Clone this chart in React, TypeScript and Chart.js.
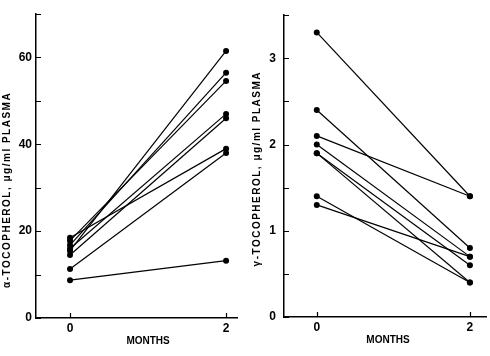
import { useEffect, useRef } from "react";
import { Chart, registerables } from "chart.js";
Chart.register(...registerables);

// ---- data ----
const months = [0, 2];
const alphaMonth0 = [18.5, 17.8, 16.8, 16.0, 15.5, 14.5, 11.3, 8.7];
const alphaMonth2 = [39.0, 54.6, 56.5, 47.0, 61.5, 46.0, 38.0, 13.2];
const gammaMonth0 = [3.3, 2.4, 2.1, 2.0, 1.9, 1.9, 1.4, 1.3];
const gammaMonth2 = [1.4, 0.8, 1.4, 0.7, 0.6, 0.4, 0.4, 0.7];
const alphaTickLabels = [0, 20, 40, 60];
const gammaTickLabels = [0, 1, 2, 3];
const monthTickLabels = ["0", "2"];

const FONT = '"Liberation Sans", Arial, sans-serif';

const decorPlugin = {
  id: "decor",
  afterDraw(chart: any, _args: any, opts: any) {
    const { ctx, chartArea, scales } = chart;
    const x = scales.x;
    const y = scales.y;
    ctx.save();
    ctx.strokeStyle = "#000";
    ctx.lineWidth = 1.2;
    ctx.beginPath();
    y.ticks.forEach((t: any) => {
      const py = Math.round(y.getPixelForValue(t.value)) + 0.5;
      ctx.moveTo(chartArea.left, py);
      ctx.lineTo(chartArea.left + opts.tickLen, py);
    });
    x.ticks.forEach((t: any) => {
      const px = Math.round(x.getPixelForValue(t.value)) + 0.5;
      ctx.moveTo(px, chartArea.bottom);
      ctx.lineTo(px, chartArea.bottom - opts.tickLen);
    });
    ctx.stroke();
    ctx.fillStyle = "#000";
    ctx.font = `bold 10px ${FONT}`;
    ctx.textAlign = "center";
    ctx.textBaseline = "middle";
    ctx.fillText(opts.xTitle, x.getPixelForValue(opts.xTitleAt), chartArea.bottom + opts.xTitleGap);
    ctx.translate(opts.yTitleX, y.getPixelForValue(opts.yTitleAt));
    ctx.rotate(-Math.PI / 2);
    (ctx as any).letterSpacing = opts.letterSpacing;
    ctx.fillText(opts.yTitle, 0, 0);
    ctx.restore();
  },
};

function makeConfig(p: {
  start: number[];
  end: number[];
  xMin: number;
  xMax: number;
  yMax: number;
  step: number;
  labels: number[];
  yWidth: number;
  xHeight: number;
  padRight: number;
  yTitle: string;
  yTitleX: number;
  yTitleAt: number;
  xTitleAt: number;
  labelPad: number;
}) {
  const datasets = p.start.map((s, i) => ({
    data: [
      { x: months[0], y: s },
      { x: months[1], y: p.end[i] },
    ],
    borderColor: "#000",
    borderWidth: 1.2,
    backgroundColor: "#000",
    pointRadius: 3,
    pointBorderWidth: 0,
    pointBackgroundColor: "#000",
  }));
  return {
    type: "line" as const,
    data: { datasets },
    plugins: [decorPlugin],
    options: {
      animation: false as const,
      responsive: false,
      layout: { padding: { top: 14, right: p.padRight, left: 0, bottom: 0 } },
      plugins: {
        legend: { display: false },
        tooltip: { enabled: false },
        decor: {
          tickLen: 5,
          xTitle: "MONTHS",
          xTitleAt: p.xTitleAt,
          xTitleGap: 23,
          yTitle: p.yTitle,
          yTitleX: p.yTitleX,
          yTitleAt: p.yTitleAt,
          letterSpacing: "1.5px",
        },
      },
      scales: {
        x: {
          type: "linear" as const,
          min: p.xMin,
          max: p.xMax,
          afterBuildTicks: (s: any) => {
            s.ticks = months.map((v) => ({ value: v }));
          },
          afterFit: (s: any) => {
            s.height = p.xHeight;
          },
          ticks: {
            color: "#000",
            font: { family: FONT, size: 12, weight: "bold" as const },
            padding: 3,
            autoSkip: false,
            maxRotation: 0,
            callback: (v: any) => monthTickLabels[months.indexOf(v)] ?? "",
          },
          grid: { display: true, drawOnChartArea: false, drawTicks: false },
          border: { display: true, color: "#000", width: 1.5 },
        },
        y: {
          type: "linear" as const,
          min: 0,
          max: p.yMax,
          afterFit: (s: any) => {
            s.width = p.yWidth;
          },
          ticks: {
            stepSize: p.step,
            color: "#000",
            autoSkip: false,
            padding: p.labelPad,
            font: { family: FONT, size: 12, weight: "bold" as const },
            callback: (v: any) => (p.labels.includes(v) ? String(v) : ""),
          },
          grid: { display: true, drawOnChartArea: false, drawTicks: false },
          border: { display: true, color: "#000", width: 1.5 },
        },
      },
    },
  };
}

function Panel({ config, left }: { config: any; left: number }) {
  const ref = useRef<HTMLCanvasElement | null>(null);
  useEffect(() => {
    if (!ref.current) return;
    const chart = new Chart(ref.current, config);
    return () => chart.destroy();
  }, [config]);
  return (
    <canvas
      ref={ref}
      width={245}
      height={356}
      style={{ position: "absolute", left, top: 0, width: 245, height: 356 }}
    />
  );
}

const leftConfig = makeConfig({
  start: alphaMonth0,
  end: alphaMonth2,
  xMin: -0.436,
  xMax: 2.14,
  yMax: 70,
  step: 10,
  labels: alphaTickLabels,
  yWidth: 36,
  xHeight: 38,
  padRight: 8,
  yTitle: "α-TOCOPHEROL, μg/ml PLASMA",
  yTitleX: 7,
  yTitleAt: 29.5,
  xTitleAt: 1,
  labelPad: 4,
});

const rightConfig = makeConfig({
  start: gammaMonth0,
  end: gammaMonth2,
  xMin: -0.428,
  xMax: 2.21,
  yMax: 3.5,
  step: 0.5,
  labels: gammaTickLabels,
  yWidth: 39,
  xHeight: 39,
  padRight: 0,
  yTitle: "γ-TOCOPHEROL, μg/ml PLASMA",
  yTitleX: 12,
  yTitleAt: 1.72,
  xTitleAt: 0.93,
  labelPad: 8,
});

export default function App() {
  return (
    <div style={{ position: "fixed", left: 0, top: 0, width: 490, height: 356, background: "#fff" }}>
      <Panel config={leftConfig} left={0} />
      <Panel config={rightConfig} left={245} />
    </div>
  );
}
